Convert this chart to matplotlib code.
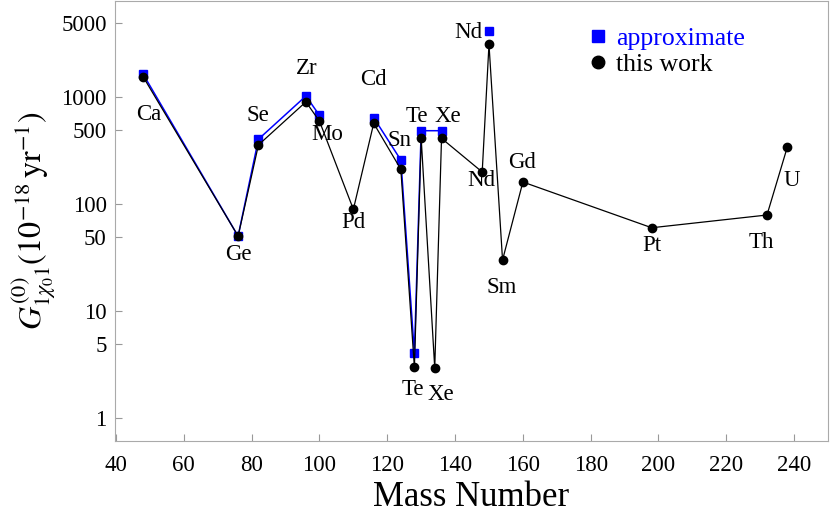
import numpy as np
import matplotlib
matplotlib.use("Agg")
import matplotlib.pyplot as plt

plt.rcParams["font.family"] = ["Liberation Serif", "DejaVu Serif"]
plt.rcParams["mathtext.fontset"] = "stix"

# this work (black circles)
mass = [48, 76, 82, 96, 100, 110, 116, 124, 128, 130, 134, 136, 148, 150, 154, 160, 198, 232, 238]
g_this = [1560, 50.5, 360, 910, 600, 90, 573, 213, 3.0, 415, 2.95, 415, 201, 3140, 30.2, 162, 60.5, 79.6, 344]
names = ["Ca", "Ge", "Se", "Zr", "Mo", "Pd", "Cd", "Sn", "Te", "Te", "Xe", "Xe", "Nd", "Nd", "Sm", "Gd", "Pt", "Th", "U"]
# label offsets in pixels (dx, dy)
offs = [(6, -38), (0, -18), (-1, 29), (1, 33), (8, -13), (0, -13), (0, 44), (-1, 29), (-2, -22), (-4, 22),
        (6, -26), (6, 22), (-1, -9), (-21, 12), (-1, -27), (-1, 20), (0, -18), (-6, -27), (4, -33)]

# approximate (blue squares), nan breaks the line
mass_appr = [48, 76, 82, 96, 100, np.nan, 116, 124, 128, 130, 136, np.nan, 150]
g_appr = [1650, 50.5, 407, 1032, 681, np.nan, 647, 260, 4.05, 489, 489, np.nan, 4180]

fig = plt.figure(figsize=(8.3, 5.14), dpi=100)
ax = fig.add_axes([0.1386, 0.142, 0.8590, 0.856])

ax.plot(mass_appr, g_appr, c="blue", lw=1.1, marker="s", ms=5.2, mec="blue", zorder=2, label="approximate")
ax.plot(mass, g_this, c="black", lw=0.9, marker="o", ms=6, zorder=3, label="this work")

for x, y, n, (dx, dy) in zip(mass, g_this, names, offs):
    ax.annotate(n, (x, y), xytext=(dx * 0.72, dy * 0.72), textcoords="offset points",
                ha="center", va="center", fontsize=16.5)

ax.set_yscale("log")
ax.set_xlim(39.7, 250)
ax.set_ylim(0.613, 7980)
ax.set_xticks(range(40, 241, 20))
ax.set_yticks([1, 5, 10, 50, 100, 500, 1000, 5000])
ax.set_yticklabels(["1", "5", "10", "50", "100", "500", "1000", "5000"])
ax.minorticks_off()
ax.tick_params(axis="both", direction="in", color="#999999", length=5, labelsize=16.5)
ax.tick_params(axis="x", pad=10)
ax.tick_params(axis="y", pad=6)

for s in ax.spines.values():
    s.set_color("#aaaaaa")

ax.set_xlabel("Mass Number", fontsize=25, labelpad=4)
ax.set_ylabel(r"$G^{(0)}_{1\chi_{0}1}(10^{-18}\,\mathrm{yr}^{-1})$", fontsize=23, labelpad=2)

leg = ax.legend(loc="upper left", bbox_to_anchor=(0.636, 0.993), frameon=False, fontsize=18.5,
                handlelength=0.5, handletextpad=0.45, labelspacing=0.12, labelcolor=["blue", "black"])
for h in leg.legend_handles:
    h.set_linestyle("none")
    h.set_markersize(9)

fig.savefig("out.png", dpi=100)
